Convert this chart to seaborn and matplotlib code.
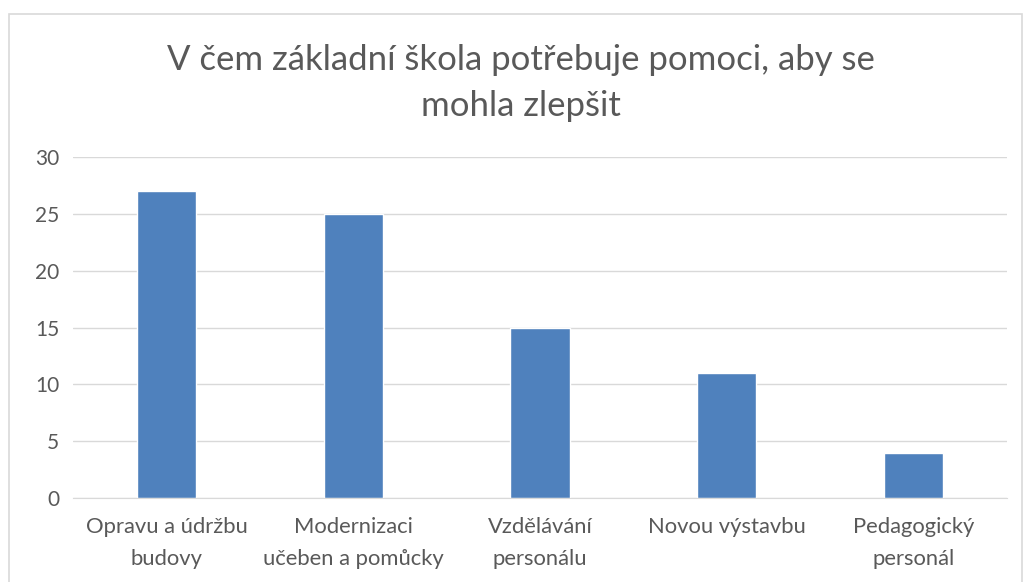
import numpy as np
import pandas as pd
import seaborn as sns
import matplotlib.pyplot as plt

# data
categories = ["Opravu a údržbu\nbudovy", "Modernizaci\nučeben a pomůcky", "Vzdělávání\npersonálu",
              "Novou výstavbu", "Pedagogický\npersonál"]
values = [27, 25, 15, 11, 4]
title = "V čem základní škola potřebuje pomoci, aby se\nmohla zlepšit"

df = pd.DataFrame({"kategorie": categories, "pocet": values})

sns.set_style("white")
plt.rcParams['font.family'] = ['Lato', 'DejaVu Sans']

fig = plt.figure(figsize=(10.25, 5.82), dpi=100)
ax = fig.add_axes([73 / 1025, 1 - 498 / 582, 934 / 1025, 341 / 582])

sns.barplot(data=df, x="kategorie", y="pocet", color="#4F81BD", width=0.316,
            saturation=1, ax=ax)

ax.set_ylim(0, 30)
ax.set_yticks(range(0, 31, 5))
ax.yaxis.grid(True, color="#D9D9D9", linewidth=1)
ax.set_axisbelow(True)
ax.set_xlabel("")
ax.set_ylabel("")
ax.tick_params(axis="both", length=0, labelsize=15, labelcolor="#595959")
ax.tick_params(axis="x", pad=14, labelsize=15.8)
ax.tick_params(axis="y", pad=10)
for lab in ax.get_xticklabels():
    lab.set_linespacing(1.75)
for side in ["top", "right", "left"]:
    ax.spines[side].set_visible(False)
ax.spines["bottom"].set_color("#D9D9D9")

fig.text(0.508, 1 - 122 / 582, title, ha="center", va="bottom", fontsize=25, color="#595959",
         linespacing=1.55)

# outer frame of the chart (its bottom edge lies outside the image)
fig.patches.append(plt.Rectangle((8.5 / 1025, -0.01), 1013 / 1025, 1 - 13.5 / 582 + 0.01,
                                 transform=fig.transFigure, fill=False,
                                 edgecolor="#D9D9D9", linewidth=1.2))

fig.savefig("out.png", dpi=100)
